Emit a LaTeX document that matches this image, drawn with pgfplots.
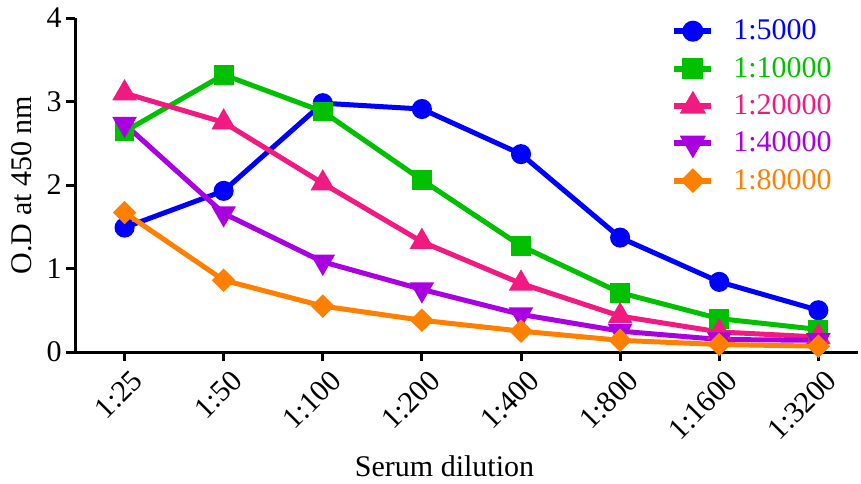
\documentclass[border=0pt]{standalone}
\usepackage{fontspec}
\setmainfont{Liberation Serif}
\usepackage{pgfplots}
\pgfplotsset{compat=1.18}
\definecolor{cblue}{RGB}{0,0,255}
\definecolor{cgreen}{RGB}{0,192,0}
\definecolor{cpink}{RGB}{240,26,128}
\definecolor{cpurple}{RGB}{170,0,225}
\definecolor{corange}{RGB}{255,128,0}
\begin{document}
\begin{tikzpicture}[font=\rmfamily\fontsize{15}{18}\selectfont]
\begin{axis}[
  name=ax, at={(0,0)}, anchor=south west,
  scale only axis, width=391.5pt, height=167pt,
  xmin=-0.5, xmax=7.4, ymin=0, ymax=4,
  axis lines=left,
  axis line style={line width=1.5pt, -},
  xtick={0,...,7},
  xticklabels={1:25,1:50,1:100,1:200,1:400,1:800,1:1600,1:3200},
  ytick={0,1,2,3,4},
  tick align=outside, major tick length=4.5pt,
  tick style={line width=1.5pt, black},
  xticklabel style={xshift=3pt, yshift=-2pt, rotate=45, anchor=north east, inner sep=1pt},
  yticklabel style={inner sep=2pt},
  /pgf/number format/assume math mode=true,
  xlabel={Serum dilution},
  ylabel={O.D at 450 nm},
  xlabel style={at={(axis description cs:0.472,-0.341)}, anchor=center},
  ylabel style={at={(axis description cs:-0.068,0.5)}, anchor=center},
  every axis plot/.append style={line width=2.5pt},
  legend style={at={(axis description cs:0.7535,1.02)}, anchor=north west, draw=none, fill=none, row sep=3.2pt,
    /tikz/every odd column/.append style={column sep=7.5pt}},
  legend cell align=left,
  legend image code/.code={\draw[#1, line width=3pt, mark repeat=2, mark phase=2] plot coordinates {(0pt,0pt) (9.25pt,0pt) (18.5pt,0pt)};},
]
\addplot[cblue, mark=*, mark size=3.75pt] coordinates {
(0,1.49) (1,1.93) (2,2.98) (3,2.91) (4,2.37) (5,1.37) (6,0.84) (7,0.50)};
\addlegendentry{\textcolor{cblue}{1:5000}}
\addplot[cgreen, mark=square*, mark size=3.7pt] coordinates {
(0,2.64) (1,3.32) (2,2.88) (3,2.06) (4,1.27) (5,0.71) (6,0.40) (7,0.27)};
\addlegendentry{\textcolor{cgreen}{1:10000}}
\addplot[cpink, mark=triangle*, mark size=4.6pt] coordinates {
(0,3.10) (1,2.75) (2,2.02) (3,1.32) (4,0.82) (5,0.43) (6,0.24) (7,0.18)};
\addlegendentry{\textcolor{cpink}{1:20000}}
\addplot[cpurple, mark=triangle*, mark size=4.6pt, mark options={rotate=180}] coordinates {
(0,2.73) (1,1.66) (2,1.08) (3,0.75) (4,0.45) (5,0.25) (6,0.15) (7,0.14)};
\addlegendentry{\textcolor{cpurple}{1:40000}}
\addplot[corange, mark=square*, mark size=2.9pt, mark options={rotate=45}] coordinates {
(0,1.67) (1,0.86) (2,0.55) (3,0.38) (4,0.25) (5,0.14) (6,0.09) (7,0.07)};
\addlegendentry{\textcolor{corange}{1:80000}}
\end{axis}
\pgfresetboundingbox
\path[use as bounding box] (-37.5pt,-65.5pt) rectangle (393pt,176pt);
\end{tikzpicture}
\end{document}
